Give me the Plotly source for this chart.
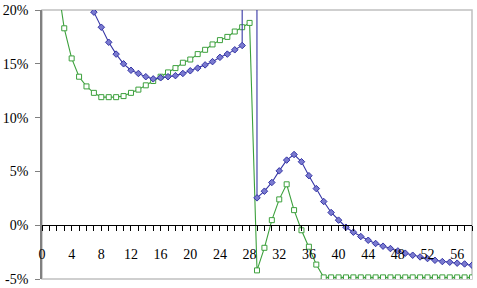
import plotly.graph_objects as go

x_vals = list(range(1, 59))

# blue series (diamonds), in percent; index 28 is an extreme spike
blue = [60.0, 50.0, 42.0, 35.0, 28.5, 23.5,
        19.8, 18.4, 17.0, 15.9, 15.0, 14.4, 14.1, 13.8, 13.6, 13.7, 13.8, 13.9, 14.1,
        14.35, 14.6, 14.9, 15.2, 15.6, 15.9, 16.3, 16.7,
        2500.0,
        2.54, 3.16, 3.97, 5.05, 6.05, 6.57, 5.9, 4.6, 3.4, 2.2, 1.18, 0.47, -0.19,
        -0.65, -1.05, -1.4, -1.7, -1.95, -2.17, -2.39, -2.6, -2.79, -2.95, -3.1,
        -3.26, -3.38, -3.44, -3.53, -3.6, -3.72]

# green series (squares), in percent
green = [32.0, 22.9,
         18.3, 15.5, 13.8, 12.9, 12.3, 11.9, 11.9, 11.9, 12.0, 12.3, 12.6, 13.0, 13.4,
         13.8, 14.2, 14.6, 15.1, 15.4, 15.9, 16.3, 16.8, 17.2, 17.5, 18.0, 18.4, 18.8,
         -4.2, -2.1, 0.47, 2.4, 3.8, 1.4, -0.47, -2.0, -3.66,
         -4.85, -4.85, -4.85, -4.85, -4.85, -4.85, -4.85, -4.85, -4.85, -4.85, -4.85,
         -4.85, -4.85, -4.85, -4.85, -4.85, -4.85, -4.85, -4.85, -4.85, -4.85]

y_tickvals = [-5, 0, 5, 10, 15, 20]
y_ticktext = ["-5%", "0%", "5%", "10%", "15%", "20%"]
x_tickvals = list(range(0, 57, 4))
x_ticktext = [str(v) for v in x_tickvals]

BLUE = "#3535a5"
GREEN = "#3ca03c"
TICKFONT = dict(family="Liberation Serif, serif", size=14, color="black")

fig = go.Figure()
fig.add_trace(go.Scatter(
    x=x_vals, y=green, mode="lines+markers",
    line=dict(color=GREEN, width=1.1),
    marker=dict(symbol="square", size=5, color="white", line=dict(color=GREEN, width=1)),
    showlegend=False))
fig.add_trace(go.Scatter(
    x=x_vals, y=blue, mode="lines+markers",
    line=dict(color=BLUE, width=1.1),
    marker=dict(symbol="diamond", size=5, color="#7a7ad0", line=dict(color=BLUE, width=1)),
    showlegend=False))

fig.update_layout(
    width=477, height=288,
    margin=dict(l=42, r=5, t=9.5, b=9),
    paper_bgcolor="white", plot_bgcolor="white",
    font=dict(family="Liberation Serif, serif"),
    xaxis=dict(range=[0, 58], anchor="free", position=0.2, automargin=False,
               tickmode="array", tickvals=x_tickvals, ticktext=x_ticktext,
               showline=True, linecolor="black", linewidth=1,
               ticks="outside", ticklen=5, tickcolor="black", tickwidth=1,
               minor=dict(dtick=1, tick0=0, ticks="outside", ticklen=5, tickcolor="black", tickwidth=1),
               showgrid=False, zeroline=False, tickfont=TICKFONT,
               ticklabelstandoff=11),
    yaxis=dict(range=[-5, 20], tickmode="array", tickvals=y_tickvals, ticktext=y_ticktext,
               automargin=False,
               showline=True, linecolor="#808080", linewidth=1.5,
               ticks="outside", ticklen=5, tickcolor="#808080",
               showgrid=False, zeroline=False, tickfont=TICKFONT,
               ticklabelstandoff=4),
    shapes=[dict(type="rect", xref="x domain", yref="y domain", x0=0, x1=1, y0=0, y1=1,
                 line=dict(color="#c0c0c0", width=1.5), layer="below")],
)

fig.write_html("out.html")
